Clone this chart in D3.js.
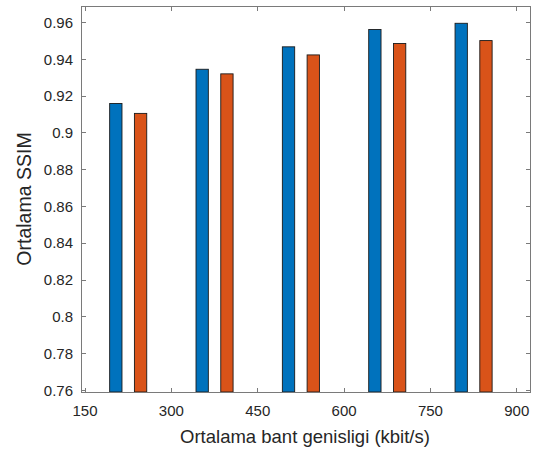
<!DOCTYPE html>
<html>
<head>
<meta charset="utf-8">
<script src="https://cdn.jsdelivr.net/npm/d3@7"></script>
<style>
	body { margin: 0; background: #fff; }
	text { font-family: "Liberation Sans", Arial, sans-serif; fill: #262626; }
</style>
</head>
<body>
<script>
// bandwidth positions (kbit/s) and mean SSIM per series
var xBlue = [203.5, 353.5, 503.5, 653.5, 803.5];
var xOrange = [246.5, 396.5, 546.5, 696.5, 846.5];
var ssimBlue = [0.916, 0.9346, 0.9468, 0.9562, 0.9596];
var ssimOrange = [0.9106, 0.9321, 0.9424, 0.9486, 0.9502];
var xTicks = [150, 300, 450, 600, 750, 900];
var yTicks = [0.76, 0.78, 0.8, 0.82, 0.84, 0.86, 0.88, 0.9, 0.92, 0.94, 0.96];

var W = 543, H = 453;
var mL = 81, mR = 530, mT = 6, mB = 392;
var barW = 21.4;

var svg = d3.select("body").append("svg").attr("width", W).attr("height", H);

var x = d3.scaleLinear().domain([143, 923]).range([mL, mR]);
var y = d3.scaleLinear().domain([0.7591, 0.969]).range([mB, mT]);

function bars(xs, vals, col) {
	var bw = x(barW) - x(0);
	svg.append("g").selectAll("rect").data(vals).enter().append("rect")
		.attr("x", function(d, i) { return x(xs[i]) - bw / 2; })
		.attr("y", function(d) { return y(d); })
		.attr("width", bw)
		.attr("height", function(d) { return mB - y(d); })
		.attr("fill", col)
		.attr("stroke", "#1a1a1a").attr("stroke-width", 0.9);
}
bars(xBlue, ssimBlue, "#0072BD");
bars(xOrange, ssimOrange, "#D95319");

var tl = 4.5;
var ax = svg.append("g").attr("stroke", "#7a7a7a").attr("stroke-width", 1).attr("shape-rendering", "crispEdges");
ax.append("rect").attr("x", mL).attr("y", mT).attr("width", mR - mL).attr("height", mB - mT).attr("fill", "none");

xTicks.forEach(function(t) {
	ax.append("line").attr("x1", x(t)).attr("x2", x(t)).attr("y1", mB).attr("y2", mB - tl);
	ax.append("line").attr("x1", x(t)).attr("x2", x(t)).attr("y1", mT).attr("y2", mT + tl);
});
yTicks.forEach(function(t) {
	ax.append("line").attr("x1", mL).attr("x2", mL + tl).attr("y1", y(t)).attr("y2", y(t));
	ax.append("line").attr("x1", mR).attr("x2", mR - tl).attr("y1", y(t)).attr("y2", y(t));
});

svg.append("g").selectAll("text").data(xTicks).enter().append("text")
	.attr("x", function(d) { return x(d); }).attr("y", 416)
	.attr("text-anchor", "middle").attr("font-size", 15)
	.text(function(d) { return d; });

svg.append("g").selectAll("text").data(yTicks).enter().append("text")
	.attr("x", 73).attr("y", function(d) { return y(d); })
	.attr("dy", "0.35em")
	.attr("text-anchor", "end").attr("font-size", 15)
	.text(function(d) { return String(d); });

svg.append("text").attr("x", 305).attr("y", 443)
	.attr("text-anchor", "middle").attr("font-size", 18.5)
	.text("Ortalama bant genisligi (kbit/s)");

svg.append("text").attr("transform", "translate(31,199) rotate(-90)")
	.attr("text-anchor", "middle").attr("font-size", 19.5)
	.text("Ortalama SSIM");
</script>
</body>
</html>
